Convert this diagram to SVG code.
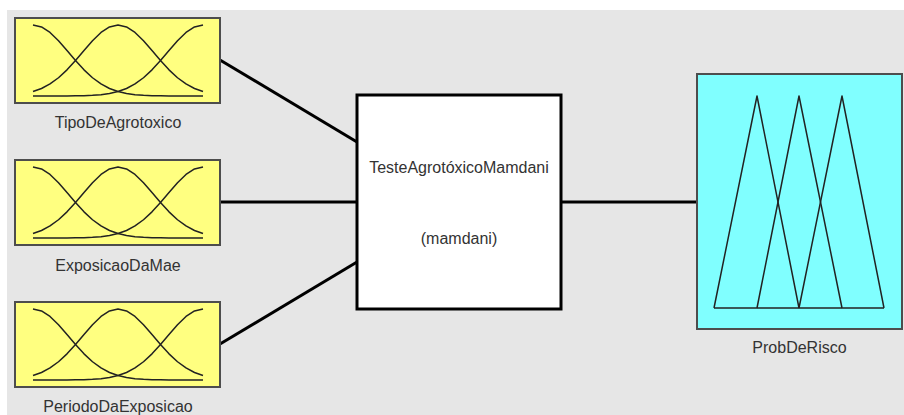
<svg xmlns="http://www.w3.org/2000/svg" xmlns:xlink="http://www.w3.org/1999/xlink" width="904" height="415" viewBox="0 0 904 415">
<style>
.in{fill:#ffff80;stroke:#4d4d4d;stroke-width:2}
.out{fill:#80ffff;stroke:#4d4d4d;stroke-width:2}
.sys{fill:#ffffff;stroke:#000000;stroke-width:3}
.mf{fill:none;stroke:#222222;stroke-width:1.5;stroke-linejoin:round}
.lbl{font-family:"Liberation Sans",Arial,sans-serif;font-size:16px;fill:#333333;text-anchor:middle}
.conn{stroke:#000000;stroke-width:3;fill:none}
</style>
<defs>
<g id="gauss">
<polyline class="mf" points="18,7 26.5,8.94 35,14.46 43.5,22.68 52,32.43 60.5,42.5 69,51.83 77.5,59.74 86,65.96 94.5,70.48 103,73.56 111.5,75.52 120,76.69 128.5,77.34 137,77.69 145.5,77.86 154,77.94 188,78"/>
<polyline class="mf" points="18,73.56 26.5,70.48 35,65.96 43.5,59.74 52,51.83 60.5,42.5 69,32.43 77.5,22.68 86,14.46 94.5,8.94 103,7 111.5,8.94 120,14.46 128.5,22.68 137,32.43 145.5,42.5 154,51.83 162.5,59.74 171,65.96 179.5,70.48 188,73.56"/>
<polyline class="mf" points="188,7 179.5,8.94 171,14.46 162.5,22.68 154,32.43 145.5,42.5 137,51.83 128.5,59.74 120,65.96 111.5,70.48 103,73.56 94.5,75.52 86,76.69 77.5,77.34 69,77.69 60.5,77.86 52,77.94 18,78"/>
</g>
</defs>
<rect x="7" y="10" width="897" height="405" fill="#e6e6e6"/>
<g id="connectors">
<line class="conn" x1="220" y1="60" x2="357" y2="142"/>
<line class="conn" x1="220" y1="202" x2="357" y2="202"/>
<line class="conn" x1="220" y1="344" x2="357" y2="262"/>
<line class="conn" x1="561" y1="202" x2="697" y2="202"/>
</g>
<g id="TipoDeAgrotoxico">
<rect class="in" x="15" y="18" width="205" height="85"/>
<use xlink:href="#gauss" transform="translate(15,18)"/>
<text class="lbl" x="118" y="128">TipoDeAgrotoxico</text>
</g>
<g id="ExposicaoDaMae">
<rect class="in" x="15" y="160" width="205" height="85"/>
<use xlink:href="#gauss" transform="translate(15,160)"/>
<text class="lbl" x="118" y="271">ExposicaoDaMae</text>
</g>
<g id="PeriodoDaExposicao">
<rect class="in" x="15" y="302" width="205" height="85"/>
<use xlink:href="#gauss" transform="translate(15,302)"/>
<text class="lbl" x="118" y="412">PeriodoDaExposicao</text>
</g>
<g id="TesteAgrotoxicoMamdani">
<rect class="sys" x="357" y="95" width="204" height="214"/>
<text class="lbl" x="459" y="173">TesteAgrotóxicoMamdani</text>
<text class="lbl" x="459" y="244">(mamdani)</text>
</g>
<g id="ProbDeRisco">
<rect class="out" x="697" y="74" width="205" height="255"/>
<polyline class="mf" points="714,308 757,96 799,308"/>
<polyline class="mf" points="757,308 799,96 842,308"/>
<polyline class="mf" points="799,308 842,96 884,308"/>
<line class="mf" x1="714" y1="308" x2="884" y2="308"/>
<text class="lbl" x="799.5" y="353">ProbDeRisco</text>
</g>
</svg>
